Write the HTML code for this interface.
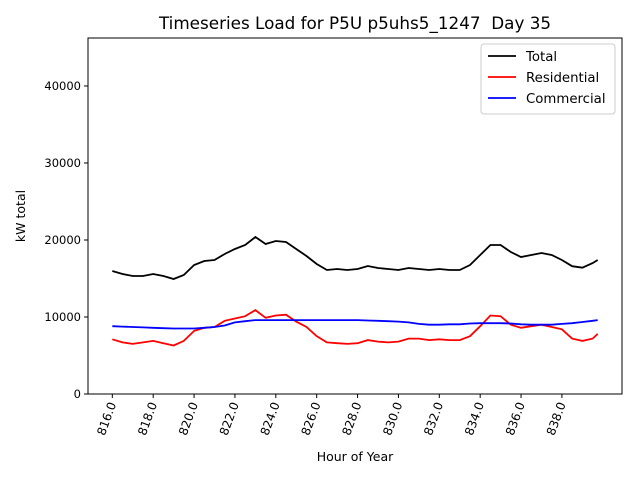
<!DOCTYPE html>
<html><head><meta charset="utf-8"><style>
body{margin:0;background:#fff;font-family:"DejaVu Sans","Liberation Sans",sans-serif}
svg text{font-family:"DejaVu Sans","Liberation Sans",sans-serif}
</style></head><body>
<svg id="chart" width="640" height="480" xmlns="http://www.w3.org/2000/svg"></svg>
<script>
const hours=[816,816.5,817,817.5,818,818.5,819,819.5,820,820.5,821,821.5,822,822.5,823,823.5,824,824.5,825,825.5,826,826.5,827,827.5,828,828.5,829,829.5,830,830.5,831,831.5,832,832.5,833,833.5,834,834.5,835,835.5,836,836.5,837,837.5,838,838.5,839,839.5,839.75];
const totalVals=[15970,15580,15320,15320,15580,15320,14940,15450,16750,17270,17400,18180,18830,19350,20390,19480,19870,19740,18830,17920,16880,16100,16230,16100,16230,16620,16360,16230,16100,16360,16230,16100,16230,16100,16100,16750,18050,19350,19350,18440,17790,18050,18310,18050,17400,16600,16400,17000,17400];
const resVals=[7100,6700,6500,6700,6900,6600,6300,6900,8200,8600,8700,9500,9800,10100,10900,9900,10200,10300,9400,8700,7500,6700,6600,6500,6600,7000,6800,6700,6800,7200,7200,7000,7100,7000,7000,7500,8800,10200,10100,9000,8600,8800,9000,8700,8400,7200,6900,7200,7800];
const comVals=[8800,8750,8700,8650,8600,8550,8500,8500,8500,8600,8700,8900,9300,9450,9600,9600,9600,9600,9600,9600,9600,9600,9600,9600,9600,9550,9500,9450,9400,9300,9100,9000,9000,9050,9050,9150,9200,9200,9200,9150,9050,9000,9000,9000,9100,9200,9350,9500,9600];
const yTicks=[0,10000,20000,30000,40000];
const xTicks=[816,818,820,822,824,826,828,830,832,834,836,838];
const NS="http://www.w3.org/2000/svg",svg=document.getElementById('chart');
const L=88,R=622,T=38,B=394,x0=814.81,x1=840.94,yMax=46230;
const X=v=>L+(v-x0)/(x1-x0)*(R-L), Y=v=>B-v/yMax*(B-T);
function mk(t,a,txt){const e=document.createElementNS(NS,t);for(const k in a)e.setAttribute(k,a[k]);if(txt!=null)e.textContent=txt;svg.appendChild(e);return e;}
let e=mk('text',{x:355,y:29,'text-anchor':'middle','font-size':16.8},'Timeseries Load for P5U p5uhs5_1247\u00a0\u00a0Day 35');


yTicks.forEach(v=>{mk('line',{x1:L-4,x2:L,y1:Y(v),y2:Y(v),stroke:'#000'});
 e=mk('text',{x:L-7,y:Y(v)+4,'text-anchor':'end','font-size':11.5},String(v));
 
 });
xTicks.forEach(v=>{mk('line',{x1:X(v),x2:X(v),y1:B,y2:B+4,stroke:'#000'});
 e=mk('text',{x:0,y:0,'text-anchor':'end','font-size':12,transform:`translate(${X(v)+4},${B+10}) rotate(-70)`},v.toFixed(1));
 
 });
function series(vals,col,name){const p=vals.map((v,i)=>X(hours[i]).toFixed(1)+','+Y(v).toFixed(1)).join(' ');
 const l=mk('polyline',{points:p,fill:'none',stroke:col,'stroke-width':1.8});
 
 }
series(totalVals,'#000','total-line');series(resVals,'#f00','residential-line');series(comVals,'#00f','commercial-line');
e=mk('rect',{x:L,y:T,width:R-L,height:B-T,fill:'none',stroke:'#000','stroke-width':1});


e=mk('text',{x:355,y:461,'text-anchor':'middle','font-size':12.5},'Hour of Year');


e=mk('text',{x:0,y:0,'text-anchor':'middle','font-size':12.5,transform:'translate(25,216) rotate(-90)'},'kW total');


e=mk('rect',{x:481,y:44,width:134,height:70,fill:'#fff',stroke:'#ccc',rx:3});


[['Total','#000',56],['Residential','#f00',77],['Commercial','#00f',98]].forEach(([n,c,y])=>{
 mk('line',{x1:488,x2:516,y1:y,y2:y,stroke:c,'stroke-width':1.8});
 e=mk('text',{x:526,y:y+5,'font-size':13.3},n);
 
 });
</script>
</body></html>
